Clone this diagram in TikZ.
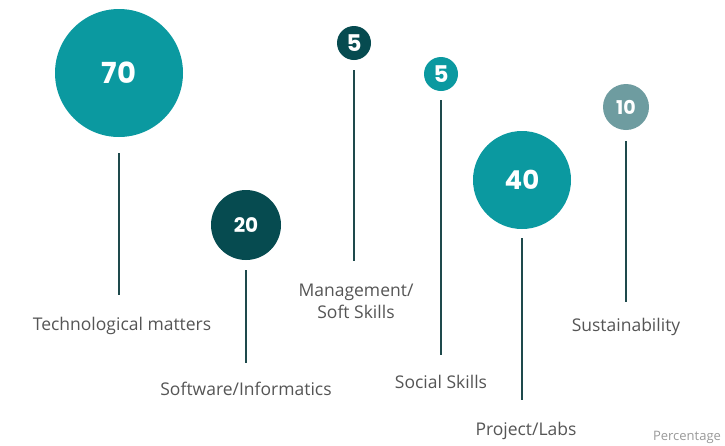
\documentclass[tikz,border=0pt]{standalone}
\usepackage{fontspec}
\setmainfont{Open Sans}
\newfontfamily\numfont{Poppins}
\usepackage{tikz}

\definecolor{teal1}{HTML}{0B99A0}
\definecolor{teal2}{HTML}{064B50}
\definecolor{teal3}{HTML}{6E9CA0}
\definecolor{stemcol}{HTML}{1E4A4C}
\definecolor{txtcol}{HTML}{555555}

\begin{document}
\begin{tikzpicture}[x=1pt,y=-1pt,
    bubble/.style={circle,inner sep=0pt,text=white,font=\numfont\bfseries},
    lbl/.style={text=txtcol,font=\fontsize{17.5}{22}\selectfont,align=center,inner sep=0pt},
    stem/.style={draw=stemcol,line width=1.6pt}]
  \useasboundingbox (0,0) rectangle (725,445);
  % bubbles
  \node[bubble,fill=teal1,minimum size=128,font=\numfont\bfseries\fontsize{29}{29}\selectfont] (c70) at (119,73) {70};
  \node[bubble,fill=teal2,minimum size=70,font=\numfont\bfseries\fontsize{20}{20}\selectfont] (c20) at (246,225) {20};
  \node[bubble,fill=teal2,minimum size=34,font=\numfont\bfseries\fontsize{23}{23}\selectfont] (c5a) at (354,43) {5};
  \node[bubble,fill=teal1,minimum size=34,font=\numfont\bfseries\fontsize{23}{23}\selectfont] (c5b) at (441,74) {5};
  \node[bubble,fill=teal1,minimum size=98,font=\numfont\bfseries\fontsize{26}{26}\selectfont] (c40) at (522,180) {40};
  \node[bubble,fill=teal3,minimum size=46,font=\numfont\bfseries\fontsize{19}{19}\selectfont] (c10) at (626,107) {10};
  % labels
  \node[lbl] (l70) at (122,326) {Technological matters};
  \node[lbl] (l20) at (246,389) {Software/Informatics};
  \node[lbl] (l5a) at (356,301) {Management/\\Soft Skills};
  \node[lbl] (l5b) at (441,382) {Social Skills};
  \node[lbl] (l40) at (526,431) {Project/Labs};
  \node[lbl] (l10) at (626,327) {Sustainability};
  \node[text=black!40,font=\fontsize{13}{13}\selectfont,inner sep=0pt] (pct) at (687,437) {Percentage};
  % stems
  \draw[stem] ([yshift=-16pt]c70.south) -- ([yshift=31pt]l70.center -| c70);
  \draw[stem] ([yshift=-10pt]c20.south) -- ([yshift=26pt]l20.center);
  \draw[stem] ([yshift=-10pt]c5a.south) -- ([yshift=40pt]l5a.center -| c5a);
  \draw[stem] ([yshift=-9pt]c5b.south) -- ([yshift=27pt]l5b.center);
  \draw[stem] ([yshift=-9pt]c40.south) -- ([yshift=31pt]l40.center -| c40);
  \draw[stem] ([yshift=-11pt]c10.south) -- ([yshift=25pt]l10.center);
\end{tikzpicture}
\end{document}
